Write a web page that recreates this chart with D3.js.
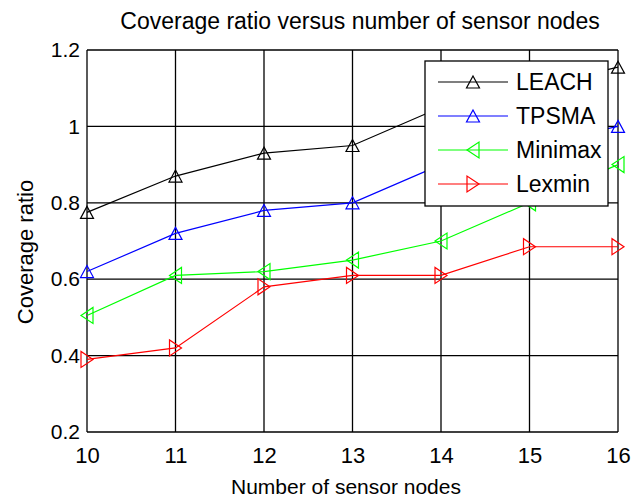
<!DOCTYPE html>
<html>
<head>
<meta charset="utf-8">
<script src="https://cdn.jsdelivr.net/npm/d3@7"></script>
<style>
  body { margin: 0; background: #fff; }
  text { font-family: "Liberation Sans", Arial, sans-serif; fill: #000; }
</style>
</head>
<body>
<div id="chart"></div>
<script>
// chart data
const nodes = [10, 11, 12, 13, 14, 15, 16];
const leach = [0.775, 0.87, 0.93, 0.95, 1.05, 1.10, 1.155];
const tpsma = [0.62, 0.72, 0.78, 0.80, 0.90, 0.95, 1.0];
const minimax = [0.505, 0.61, 0.62, 0.65, 0.70, 0.80, 0.90];
const lexmin = [0.39, 0.42, 0.58, 0.61, 0.61, 0.685, 0.685];
const seriesNames = ["LEACH", "TPSMA", "Minimax", "Lexmin"];
const yTicks = [0.2, 0.4, 0.6, 0.8, 1.0, 1.2];

const width = 643;
const height = 500;
const margin = { top: 50, right: 25, bottom: 68, left: 87 };

const series = [
  { name: seriesNames[0], values: leach, color: "#000000", marker: "up" },
  { name: seriesNames[1], values: tpsma, color: "#0000ff", marker: "up" },
  { name: seriesNames[2], values: minimax, color: "#00ff00", marker: "left" },
  { name: seriesNames[3], values: lexmin, color: "#ff0000", marker: "right" }
];

const xScale = d3.scaleLinear()
  .domain([10, 16])
  .range([margin.left, width - margin.right]);

const yScale = d3.scaleLinear()
  .domain([0.2, 1.2])
  .range([height - margin.bottom, margin.top]);

const svg = d3.select("#chart")
  .append("svg")
  .attr("width", width)
  .attr("height", height);

// grid lines
svg.append("g")
  .selectAll("line")
  .data(nodes)
  .enter()
  .append("line")
  .attr("x1", d => xScale(d))
  .attr("x2", d => xScale(d))
  .attr("y1", yScale(0.2))
  .attr("y2", yScale(1.2))
  .attr("stroke", "#000")
  .attr("stroke-width", 1.3);

svg.append("g")
  .selectAll("line")
  .data(yTicks)
  .enter()
  .append("line")
  .attr("x1", xScale(10))
  .attr("x2", xScale(16))
  .attr("y1", d => yScale(d))
  .attr("y2", d => yScale(d))
  .attr("stroke", "#000")
  .attr("stroke-width", 1.3);

// axes (labels only, box drawn by grid)
const xAxis = svg.append("g")
  .attr("transform", `translate(0, ${yScale(0.2)})`)
  .call(d3.axisBottom(xScale).tickValues(nodes).tickSize(0).tickPadding(15).tickFormat(d3.format("d")));
xAxis.select(".domain").remove();
xAxis.selectAll("text").style("font-size", "22px").attr("dy", "0.72em");

const yAxis = svg.append("g")
  .attr("transform", `translate(${xScale(10)}, 0)`)
  .call(d3.axisLeft(yScale).tickValues(yTicks).tickSize(0).tickPadding(7).tickFormat(d3.format("~g")));
yAxis.select(".domain").remove();
yAxis.selectAll("text").style("font-size", "21px");

// title and axis labels
svg.append("text")
  .attr("x", 360)
  .attr("y", 29)
  .attr("text-anchor", "middle")
  .style("font-size", "23px")
  .text("Coverage ratio versus number of sensor nodes");

svg.append("text")
  .attr("x", 346)
  .attr("y", 494)
  .attr("text-anchor", "middle")
  .style("font-size", "21px")
  .text("Number of sensor nodes");

svg.append("text")
  .attr("transform", "rotate(-90)")
  .attr("x", -252)
  .attr("y", 33)
  .attr("text-anchor", "middle")
  .style("font-size", "22px")
  .text("Coverage ratio");

// triangle marker paths, centred on the point
function markerPath(type) {
  if (type === "up") return "M0,-6L6.5,6L-6.5,6Z";
  if (type === "left") return "M-6,0L6,-8L6,8Z";
  return "M6,0L-6,-8L-6,8Z";
}

const lineGenerator = d3.line()
  .x((d, i) => xScale(nodes[i]))
  .y(d => yScale(d));

series.forEach(s => {
  svg.append("path")
    .datum(s.values)
    .attr("d", lineGenerator)
    .attr("fill", "none")
    .attr("stroke", s.color)
    .attr("stroke-width", 1.2);

  svg.append("g")
    .selectAll("path")
    .data(s.values)
    .enter()
    .append("path")
    .attr("transform", (d, i) => `translate(${xScale(nodes[i])}, ${yScale(d)})`)
    .attr("d", markerPath(s.marker))
    .attr("fill", "none")
    .attr("stroke", s.color)
    .attr("stroke-width", 1.2);
});

// legend
const legend = svg.append("g");
legend.append("rect")
  .attr("x", 425)
  .attr("y", 61)
  .attr("width", 183)
  .attr("height", 145)
  .attr("fill", "#fff")
  .attr("stroke", "#000")
  .attr("stroke-width", 1.3);

const entries = legend.selectAll("g.entry")
  .data(series)
  .enter()
  .append("g")
  .attr("class", "entry")
  .attr("transform", (d, i) => `translate(0, ${82 + i * 34})`);

entries.append("line")
  .attr("x1", 438)
  .attr("x2", 508)
  .attr("stroke", d => d.color)
  .attr("stroke-width", 1.2);

entries.append("path")
  .attr("transform", "translate(473, 0)")
  .attr("d", d => markerPath(d.marker))
  .attr("fill", "none")
  .attr("stroke", d => d.color)
  .attr("stroke-width", 1.2);

entries.append("text")
  .attr("x", 516)
  .attr("dy", "0.36em")
  .style("font-size", "23px")
  .text(d => d.name);
</script>
</body>
</html>
